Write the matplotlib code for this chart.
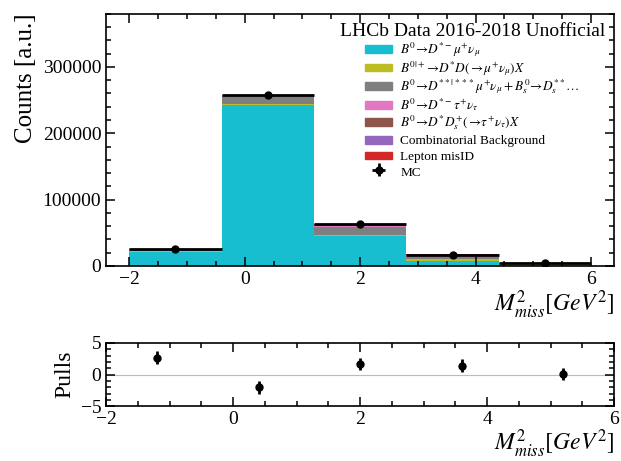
import numpy as np
import matplotlib
matplotlib.use('Agg')
import matplotlib.pyplot as plt
import matplotlib.patches as mpatches
from matplotlib.legend_handler import HandlerPatch
from matplotlib.ticker import MultipleLocator

plt.rcParams['font.family'] = ['Liberation Serif', 'DejaVu Serif']
plt.rcParams['mathtext.fontset'] = 'stix'

# binning in missing mass squared
edges = np.array([-2.0, -0.4, 1.2, 2.8, 4.4, 6.0])
centers = 0.5 * (edges[1:] + edges[:-1])

# template yields per bin (stacked bottom to top)
sig_mu = [21500, 242800, 45200, 8000, 200]
dd_mu = [400, 1200, 1500, 2000, 3400]
dstarstar = [2000, 11500, 12500, 4000, 300]
sig_tau = [300, 600, 1200, 2200, 100]
dds_tau = [600, 1400, 2600, 1000, 100]
combinatorial = [100, 200, 200, 100, 0]
misid = [100, 300, 300, 200, 0]

# MC points and pulls
mc_counts = [25000, 258000, 63500, 17000, 3900]
pulls = [2.7, -2.0, 1.7, 1.4, 0.1]
pull_err = [1.0, 1.0, 1.0, 1.0, 1.0]

labels = [
    r'$B^0\!\rightarrow\! D^{*-}\mu^{+}\nu_{\mu}$',
    r'$B^{0|+}\!\rightarrow\! D^{*}D(\rightarrow\! \mu^{+}\nu_{\mu})X$',
    r'$B^0\!\rightarrow\! D^{**|***}\mu^{+}\nu_{\mu}+B^0_s\!\rightarrow\! D_s^{**}\ldots$',
    r'$B^0\!\rightarrow\! D^{*-}\tau^{+}\nu_{\tau}$',
    r'$B^0\!\rightarrow\! D^{*}D_s^{+}(\rightarrow\! \tau^{+}\nu_{\tau})X$',
    'Combinatorial Background',
    'Lepton misID',
]
colors = ['#17becf', '#bcbd22', '#7f7f7f', '#e377c2', '#8c564b', '#9467bd', '#d62728']
components = [sig_mu, dd_mu, dstarstar, sig_tau, dds_tau, combinatorial, misid]


def thin_box(legend, orig_handle, xdescent, ydescent, width, height, fontsize):
    # flatter colour box so rows stay evenly spaced
    return mpatches.Rectangle((-xdescent, -ydescent + 0.25 * height), width, 0.5 * height)


fig = plt.figure(figsize=(6.21, 4.61), dpi=100)
ax = fig.add_axes([0.171, 0.423, 0.818, 0.547])
axp = fig.add_axes([0.171, 0.119, 0.818, 0.137])

for a in (ax, axp):
    a.tick_params(which='both', direction='in', top=True, right=True,
                  labelsize=14, width=1.1)
    a.tick_params(which='major', length=6.5)
    a.tick_params(which='minor', length=3.5)
    for s in a.spines.values():
        s.set_linewidth(1.2)

bottom = np.zeros(len(centers))
handles = []
for vals, c, lab in zip(components, colors, labels):
    top = bottom + np.array(vals)
    ax.stairs(top, edges, baseline=bottom, fill=True, color=c)
    handles.append(mpatches.Patch(color=c, label=lab))
    bottom = top

mc_err = np.sqrt(mc_counts)
hmc = ax.errorbar(centers, mc_counts, xerr=0.8, yerr=mc_err, fmt='o', color='black',
                  markersize=5, elinewidth=2, capsize=0, label='MC')
handles.append(hmc)

ax.set_xlim(-2.4, 6.4)
ax.set_ylim(0, 380000)
ax.xaxis.set_major_locator(MultipleLocator(2))
ax.xaxis.set_minor_locator(MultipleLocator(0.5))
ax.yaxis.set_major_locator(MultipleLocator(100000))
ax.yaxis.set_minor_locator(MultipleLocator(20000))
ax.set_ylabel('Counts [a.u.]', fontsize=18, loc='top')
ax.set_xlabel(r'$M_{miss}^{2}[GeV^{2}]$', fontsize=17, loc='right', labelpad=1)

leg = ax.legend(handles=handles, loc='upper right', frameon=False, fontsize=9.5,
                title='LHCb Data 2016-2018 Unofficial', title_fontsize=14,
                handlelength=2.1, handleheight=1.45, labelspacing=0.0,
                handletextpad=0.6, borderaxespad=0.3,
                handler_map={mpatches.Patch: HandlerPatch(patch_func=thin_box)})

axp.errorbar(centers, pulls, yerr=pull_err, fmt='o', color='black', markersize=5,
             elinewidth=2, capsize=0)
axp.axhline(0, color='#bbbbbb', linewidth=0.8, zorder=0)
axp.set_xlim(-2, 6)
axp.set_ylim(-5, 5)
axp.xaxis.set_major_locator(MultipleLocator(2))
axp.xaxis.set_minor_locator(MultipleLocator(0.5))
axp.yaxis.set_major_locator(MultipleLocator(5))
axp.yaxis.set_minor_locator(MultipleLocator(1))
axp.set_ylabel('Pulls', fontsize=17)
axp.set_xlabel(r'$M_{miss}^{2}[GeV^{2}]$', fontsize=17, loc='right', labelpad=0)

fig.savefig('out.png', dpi=100)
